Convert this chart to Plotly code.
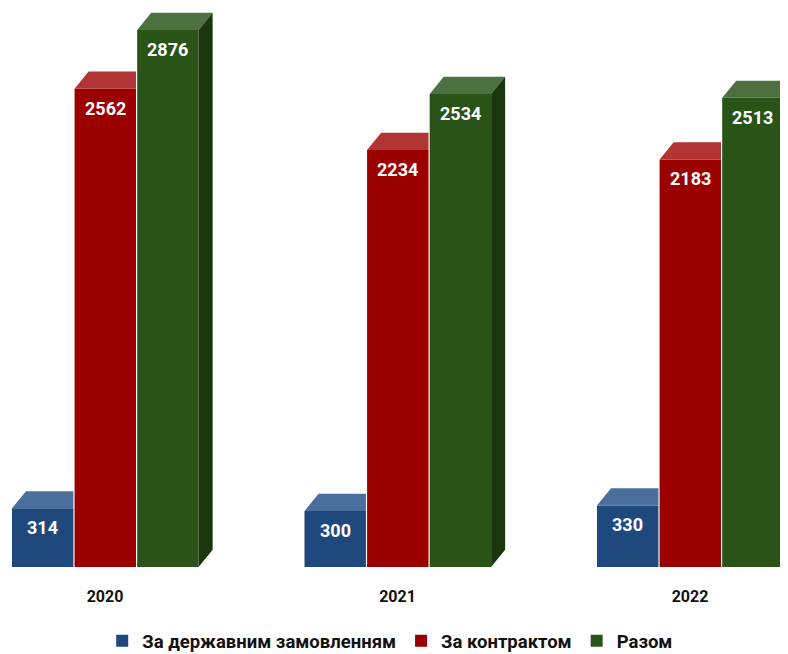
import plotly.graph_objects as go

years = ['2020', '2021', '2022']
series_names = ['За державним замовленням', 'За контрактом', 'Разом']
state_order = [314, 300, 330]
contract = [2562, 2234, 2183]
total = [2876, 2534, 2513]

front_colors = ['#1f487c', '#9a0000', '#2a5318']
top_colors = ['#4a6f9f', '#b23535', '#4c7040']
side_color = '#1b350d'

# geometry in axis units (x: category index, y: value)
bar_w = 0.21
offsets = [-0.318, -0.104, 0.11]
dx = 0.048      # depth offset to the right
dy = 92         # depth offset upward
xs = [0, 1, 2]

fig = go.Figure()

all_vals = [state_order, contract, total]
for i, (name, vals) in enumerate(zip(series_names, all_vals)):
    fig.add_trace(go.Bar(
        x=xs, y=vals, name=f'<b>{name}</b>',
        width=bar_w, offset=offsets[i],
        marker=dict(color=front_colors[i], line=dict(width=0)),
        hoverinfo='skip'
    ))

# faux-3D faces
for i, vals in enumerate(all_vals):
    last = i == len(all_vals) - 1
    for k, v in zip(xs, vals):
        x0 = k + offsets[i]
        x1 = x0 + bar_w
        if last:
            px = [x0, x1, x1 + dx, x0 + dx, x0]
        else:
            px = [x0, x1, x1, x0 + dx, x0]
        py = [v, v, v + dy, v + dy, v]
        fig.add_trace(go.Scatter(
            x=px, y=py, mode='lines', fill='toself',
            fillcolor=top_colors[i], line=dict(width=0),
            showlegend=False, hoverinfo='skip'
        ))
        if last:
            fig.add_trace(go.Scatter(
                x=[x1, x1, x1 + dx, x1 + dx, x1],
                y=[0, v, v + dy, dy, 0],
                mode='lines', fill='toself',
                fillcolor=side_color, line=dict(width=0),
                showlegend=False, hoverinfo='skip'
            ))
        fig.add_annotation(
            x=x0 + bar_w / 2, y=v, text=f'<b>{v}</b>',
            showarrow=False, yanchor='top', yshift=-7,
            font=dict(color='white', size=18, family='Roboto')
        )

fig.update_layout(
    width=780, height=646,
    margin=dict(l=0, r=0, t=0, b=87, autoexpand=False),
    plot_bgcolor='white', paper_bgcolor='white',
    barmode='overlay',
    font=dict(family='Roboto', color='#111111'),
    xaxis=dict(
        range=[-0.3316, 2.335], tickvals=xs,
        ticktext=[f'<b>{y}</b>' for y in years],
        tickfont=dict(size=16, color='#111111'),
        showgrid=False, zeroline=False, showline=False,
        ticks='', ticklabelstandoff=18, automargin=False
    ),
    yaxis=dict(range=[0, 2994], visible=False),
    legend=dict(
        orientation='h', xanchor='center', x=0.49,
        yanchor='middle', y=-0.133,
        font=dict(size=18.5, color='#111111', family='Roboto'),
        itemwidth=30, traceorder='normal'
    ),
    showlegend=True
)

fig.write_html("out.html")
